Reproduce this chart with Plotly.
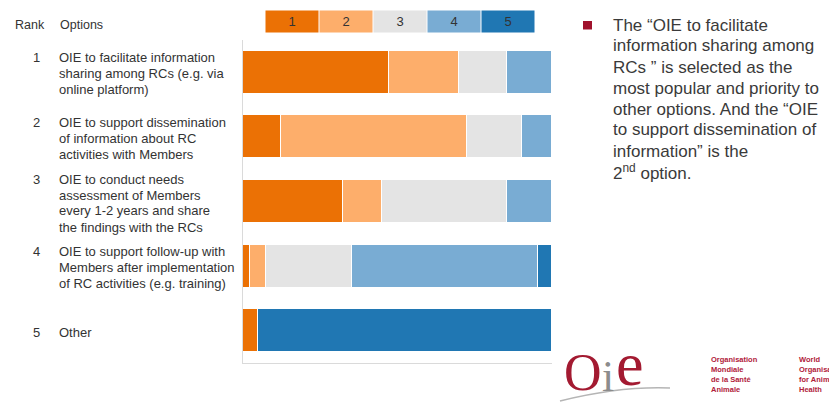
import plotly.graph_objects as go

W, H = 829, 403

ranks = ["1", "2", "3", "4", "5"]
options = [
    "OIE to facilitate information<br>sharing among RCs (e.g. via<br>online platform)",
    "OIE to support dissemination<br>of information about RC<br>activities with Members",
    "OIE to conduct needs<br>assessment of Members<br>every 1-2 years and share<br>the findings with the RCs",
    "OIE to support follow-up with<br>Members after implementation<br>of RC activities (e.g. training)",
    "Other",
]
levels = ["1", "2", "3", "4", "5"]
# share (%) of each priority level per option
level1 = [47.2, 12.3, 32.3, 2.3, 5.0]
level2 = [22.8, 60.2, 12.8, 5.1, 0.0]
level3 = [15.4, 17.7, 40.3, 27.9, 0.0]
level4 = [14.6, 9.8, 14.6, 60.1, 0.0]
level5 = [0.0, 0.0, 0.0, 4.6, 95.0]
series = [level1, level2, level3, level4, level5]
colors = ["#EB7105", "#FDAE6B", "#E4E4E4", "#79ACD3", "#2077B3"]

note_lines = [
    "The \u201cOIE to facilitate",
    "information sharing among",
    "RCs \u201d is selected as the",
    "most popular and priority to",
    "other options. And the \u201cOIE",
    "to support dissemination of",
    "information\u201d is the",
    "2<sup>nd</sup> option.",
]

FONT = "Liberation Sans, Arial, sans-serif"
TXT = "#333333"


def px(x, y):
    return x / W, 1 - y / H


fig = go.Figure()
for lv, vals, c in zip(levels, series, colors):
    fig.add_trace(go.Bar(
        y=ranks, x=vals, orientation="h", name=lv,
        marker=dict(color=c, line=dict(color="white", width=1)),
        width=0.665, showlegend=False, hoverinfo="x+name",
    ))

x0, x1 = 243, 552
ytop, ybot = 40, 363
fig.update_layout(
    width=W, height=H, margin=dict(l=0, r=0, t=0, b=0),
    paper_bgcolor="white", plot_bgcolor="white",
    barmode="stack", bargap=0,
    xaxis=dict(domain=[x0 / W, x1 / W], range=[0, 100], showgrid=False,
               zeroline=False, showticklabels=False, ticks="",
               showline=True, linecolor="#DADADA", linewidth=1),
    yaxis=dict(domain=[1 - ybot / H, 1 - ytop / H], autorange="reversed",
               showgrid=False, zeroline=False, showticklabels=False,
               ticks="", showline=True, linecolor="#DADADA", linewidth=1),
    font=dict(family=FONT, color=TXT),
)

anns = []
# headers
anns.append(dict(x=13 / W, y=1 - 25 / H, text="Rank", xanchor="left", yanchor="middle",
                 font=dict(size=12.5)))
anns.append(dict(x=58 / W, y=1 - 25 / H, text="Options", xanchor="left", yanchor="middle",
                 font=dict(size=12.5)))

pitch = (ybot - ytop) / len(ranks)
for i, (r, opt) in enumerate(zip(ranks, options)):
    lines = opt.split("<br>")
    yc = ytop + (i + 0.5) * pitch + 1.5
    first = yc - (len(lines) - 1) * 16 / 2
    anns.append(dict(x=42 / W, y=1 - first / H, text=r, xanchor="right", yanchor="middle",
                     font=dict(size=13)))
    for k, ln in enumerate(lines):
        anns.append(dict(x=57 / W, y=1 - (first + 16 * k) / H, text=ln, xanchor="left",
                         yanchor="middle", font=dict(size=13)))

# legend boxes
for k, (lv, c) in enumerate(zip(levels, colors)):
    cx = 292 + 54 * k
    anns.append(dict(x=cx / W, y=1 - 21 / H, text=lv, xanchor="center", yanchor="middle",
                     width=52, height=21, bgcolor=c, borderpad=0,
                     font=dict(size=13, color=TXT)))

# right-hand note
note_y = [25, 46, 67, 88, 109, 130, 151, 172]
for ln, yy in zip(note_lines, note_y):
    anns.append(dict(x=611 / W, y=1 - yy / H, text=ln, xanchor="left", yanchor="middle",
                     font=dict(size=17, color="#3A3A3A")))

# logo
anns.append(dict(x=562 / W, y=1 - 372 / H, text="O", xanchor="left", yanchor="middle",
                 font=dict(size=52, family="Liberation Serif, serif", color="#A31A31")))
anns.append(dict(x=600 / W, y=1 - 376 / H, text="i", xanchor="left", yanchor="middle",
                 font=dict(size=44, family="Liberation Serif, serif", color="#8C8C8C")))
anns.append(dict(x=614 / W, y=1 - 364 / H, text="e", xanchor="left", yanchor="middle",
                 font=dict(size=62, family="Liberation Serif, serif", color="#A31A31")))
for xx, lines in [(709, ["Organisation", "Mondiale", "de la Santé", "Animale"]),
                  (797, ["World", "Organisation", "for Animal", "Health"])]:
    for k, ln in enumerate(lines):
        anns.append(dict(x=xx / W, y=1 - (359 + 10 * k) / H, text="<b>" + ln + "</b>",
                         xanchor="left", yanchor="middle",
                         font=dict(size=7.5, color="#B0203A")))

fig.update_layout(annotations=[dict(a, xref="paper", yref="paper", showarrow=False) for a in anns])

shapes = []
# bullet
shapes.append(dict(type="rect", xref="paper", yref="paper",
                   x0=583 / W, x1=592 / W, y0=1 - 29.5 / H, y1=1 - 21 / H,
                   fillcolor="#A0122C", line=dict(width=0)))
# swoosh under logo
pa = px(560, 401); pb = px(620, 386); pc = px(670, 388)
shapes.append(dict(type="path", xref="paper", yref="paper",
                   path=f"M {pa[0]},{pa[1]} Q {pb[0]},{pb[1]} {pc[0]},{pc[1]}",
                   line=dict(color="#B5B5B5", width=1.5)))
fig.update_layout(shapes=shapes)

fig.write_html("out.html")
